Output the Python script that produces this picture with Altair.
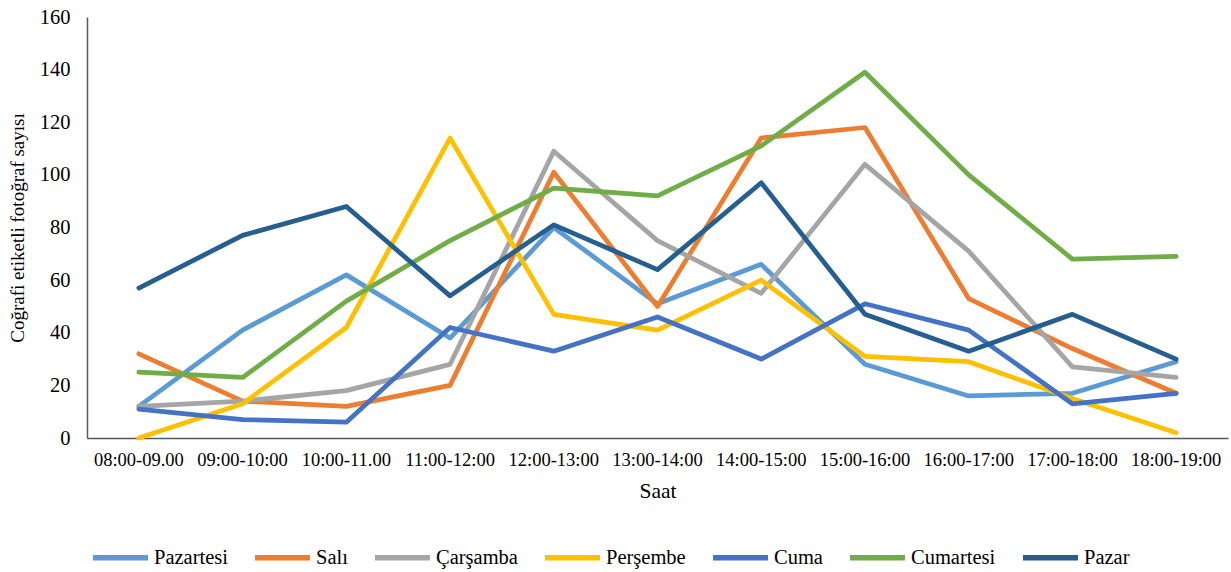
import altair as alt
import pandas as pd

hours = ["08:00-09.00", "09:00-10:00", "10:00-11.00", "11:00-12:00", "12:00-13:00",
         "13:00-14:00", "14:00-15:00", "15:00-16:00", "16:00-17:00", "17:00-18:00", "18:00-19:00"]
days = ["Pazartesi", "Salı", "Çarşamba", "Perşembe", "Cuma", "Cumartesi", "Pazar"]
colors = ["#5B9BD5", "#ED7D31", "#A5A5A5", "#FFC000", "#4472C4", "#70AD47", "#255E91"]

pazartesi = [12, 41, 62, 38, 80, 51, 66, 28, 16, 17, 29]
sali = [32, 14, 12, 20, 101, 50, 114, 118, 53, 34, 17]
carsamba = [12, 14, 18, 28, 109, 75, 55, 104, 71, 27, 23]
persembe = [0, 13, 42, 114, 47, 41, 60, 31, 29, 15, 2]
cuma = [11, 7, 6, 42, 33, 46, 30, 51, 41, 13, 17]
cumartesi = [25, 23, 52, 75, 95, 92, 111, 139, 100, 68, 69]
pazar = [57, 77, 88, 54, 81, 64, 97, 47, 33, 47, 30]

series = [pazartesi, sali, carsamba, persembe, cuma, cumartesi, pazar]
rows = []
for d, vals in zip(days, series):
    for i, (h, v) in enumerate(zip(hours, vals)):
        rows.append({"Saat": h, "Gün": d, "Değer": v, "idx": i})
df = pd.DataFrame(rows)

FONT = "Liberation Serif"

chart = alt.Chart(df).mark_line(strokeWidth=4.75, strokeCap="round", strokeJoin="round").encode(
    x=alt.X("Saat:N", sort=hours,
            scale=alt.Scale(type="band", paddingInner=0, paddingOuter=0),
            axis=alt.Axis(title="Saat", labelAngle=0, ticks=False, labelPadding=12,
                          labelFont=FONT, titleFont=FONT,
                          labelFontSize=18.5, titleFontSize=21.5, titleFontWeight="normal",
                          titlePadding=12, labelColor="#000000", titleColor="#000000",
                          domainColor="#595959", domainWidth=1.5, grid=False)),
    y=alt.Y("Değer:Q", scale=alt.Scale(domain=[0, 160], nice=False),
            axis=alt.Axis(title="Coğrafi etiketli fotoğraf sayısı", values=list(range(0, 161, 20)),
                          labelFont=FONT, titleFont=FONT,
                          ticks=False, labelPadding=17, labelFontSize=20.5, titleFontSize=19,
                          titleFontWeight="normal", titlePadding=12, labelColor="#000000",
                          titleColor="#000000", domainColor="#595959", domainWidth=1.5, grid=False)),
    color=alt.Color("Gün:N", sort=days,
                    scale=alt.Scale(domain=days, range=colors),
                    legend=alt.Legend(title=None, orient="none", direction="horizontal",
                                      legendX=3, legendY=510, columns=7,
                                      symbolType="stroke", symbolSize=3025, symbolStrokeWidth=5.5,
                                      labelFontSize=20.5, labelFont=FONT, labelColor="#000000",
                                      labelOffset=3, columnPadding=16)),
    order=alt.Order("idx:Q")
).properties(
    width=1141, height=421,
    autosize=alt.AutoSizeParams(type="none"),
    padding={"left": 87, "top": 17, "right": 3, "bottom": 134}
).configure(font=FONT).configure_view(stroke=None).configure_axis(labelFont=FONT, titleFont=FONT)

chart.save("out.html", embed_options={"renderer": "svg", "actions": False})
